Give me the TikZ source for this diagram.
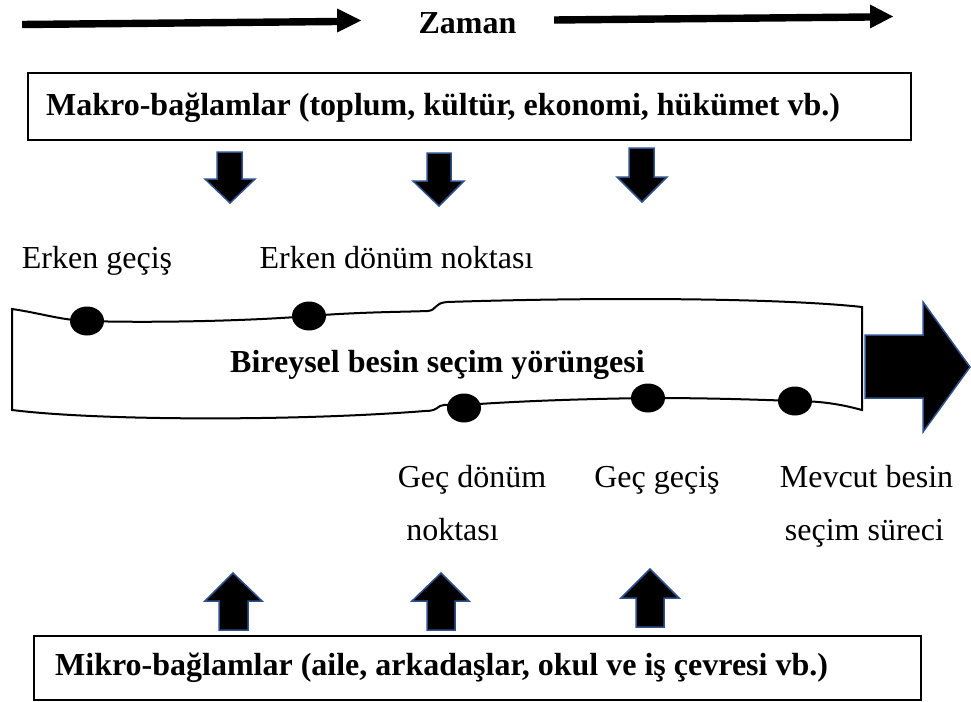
\documentclass[tikz,border=0pt]{standalone}
\usepackage{fontspec}
\setmainfont{Liberation Serif}
\usetikzlibrary{shapes.geometric}
\definecolor{arrowblue}{HTML}{2F528F}
\begin{document}
\begin{tikzpicture}[x=1pt,y=-1pt,
  lbl/.style={font=\fontsize{32}{36}\selectfont, inner sep=0pt},
  blbl/.style={font=\fontsize{32}{36}\selectfont\bfseries, inner sep=0pt},
  ctxbox/.style={draw=black, line width=1.6pt, inner sep=0pt, anchor=north west},
  blockarrow/.style={fill=black, draw=arrowblue, line width=1.5pt, line join=miter},
  timearrow/.style={fill=black},
  bandline/.style={draw=black, line width=2pt, fill=white},
  dot/.style={ellipse, fill=black, minimum width=34pt, minimum height=29pt, inner sep=0pt},
]
\useasboundingbox (0,0) rectangle (971,701);

% time arrows and label
\fill[timearrow] (22,20.8) -- (337,17.8) -- (337,8.5) -- (361,20.5) -- (337,32.5) -- (337,25.2) -- (22,28.2) -- cycle;
\fill[timearrow] (554,16.3) -- (870,13.3) -- (870,4.5) -- (893,16.5) -- (870,28.5) -- (870,20.7) -- (554,23.7) -- cycle;
\node[blbl, anchor=base] (zaman) at (467.5,34) {Zaman};

% macro box
\node[ctxbox, minimum width=883pt, minimum height=67pt] (makro) at (27,72) {};
\node[blbl, anchor=base west] (makrotext) at (46,115) {Makro-bağlamlar (toplum, kültür, ekonomi, hükümet vb.)};

% down arrows
\draw[blockarrow] (217,152) -- (242,152) -- (242,179) -- (255,179) -- (230,203) -- (205,179) -- (217,179) -- cycle;
\draw[blockarrow] (427,153) -- (451,153) -- (451,181) -- (464,181) -- (439,206) -- (413,181) -- (427,181) -- cycle;
\draw[blockarrow] (629,148) -- (654,148) -- (654,177) -- (667,177) -- (642,202) -- (617,177) -- (629,177) -- cycle;

% upper labels
\node[lbl, anchor=base] (erkengecis) at (97,268) {Erken geçiş};
\node[lbl, anchor=base] (erkendonum) at (396.5,268) {Erken dönüm noktası};

% band
\draw[bandline] (12,410) -- (12,309)
  .. controls (40,313) and (60,320) .. (87,321)
  .. controls (150,323) and (250,321) .. (309,316)
  .. controls (360,312) and (400,312) .. (428,311)
  .. controls (437,310) and (434,303) .. (447,302)
  .. controls (600,297) and (780,298) .. (862,307)
  -- (862,410)
  .. controls (840,404) and (820,401) .. (795,401)
  .. controls (740,399) and (700,398) .. (648,398)
  .. controls (580,399) and (520,401) .. (464,405)
  .. controls (450,405) and (445,404) .. (440,406)
  .. controls (435,410) and (432,411) .. (425,411)
  .. controls (300,421) and (100,421) .. (12,410) -- cycle;
\node[blbl, anchor=base west] (bandtext) at (230,372) {Bireysel besin seçim yörüngesi};

\node[dot] (d1) at (87,321) {};
\node[dot] (d2) at (309,316) {};
\node[dot] (d3) at (464,408) {};
\node[dot] (d4) at (648,398) {};
\node[dot] (d5) at (795,401) {};

% big arrow
\draw[blockarrow] (865,335) -- (923,335) -- (923,302) -- (970,367) -- (923,432) -- (923,398) -- (865,398) -- cycle;

% lower labels
\node[lbl, anchor=base] (gecdonum) at (472,487) {Geç dönüm};
\node[lbl, anchor=base] (noktasi) at (452.5,540) {noktası};
\node[lbl, anchor=base] (gecgecis) at (657,487) {Geç geçiş};
\node[lbl, anchor=base] (mevcut) at (866.5,487) {Mevcut besin};
\node[lbl, anchor=base] (surec) at (864.5,540) {seçim süreci};

% up arrows
\draw[blockarrow] (219,630) -- (248,630) -- (248,601) -- (262,601) -- (233,573) -- (205,601) -- (219,601) -- cycle;
\draw[blockarrow] (427,630) -- (455,630) -- (455,601) -- (469,601) -- (441,573) -- (412,601) -- (427,601) -- cycle;
\draw[blockarrow] (636,627) -- (664,627) -- (664,598) -- (679,598) -- (650,569) -- (621,598) -- (636,598) -- cycle;

% micro box
\node[ctxbox, minimum width=887pt, minimum height=64pt] (mikro) at (33,635) {};
\node[blbl, anchor=base west] (mikrotext) at (55,675) {Mikro-bağlamlar (aile, arkadaşlar, okul ve iş çevresi vb.)};
\end{tikzpicture}
\end{document}
